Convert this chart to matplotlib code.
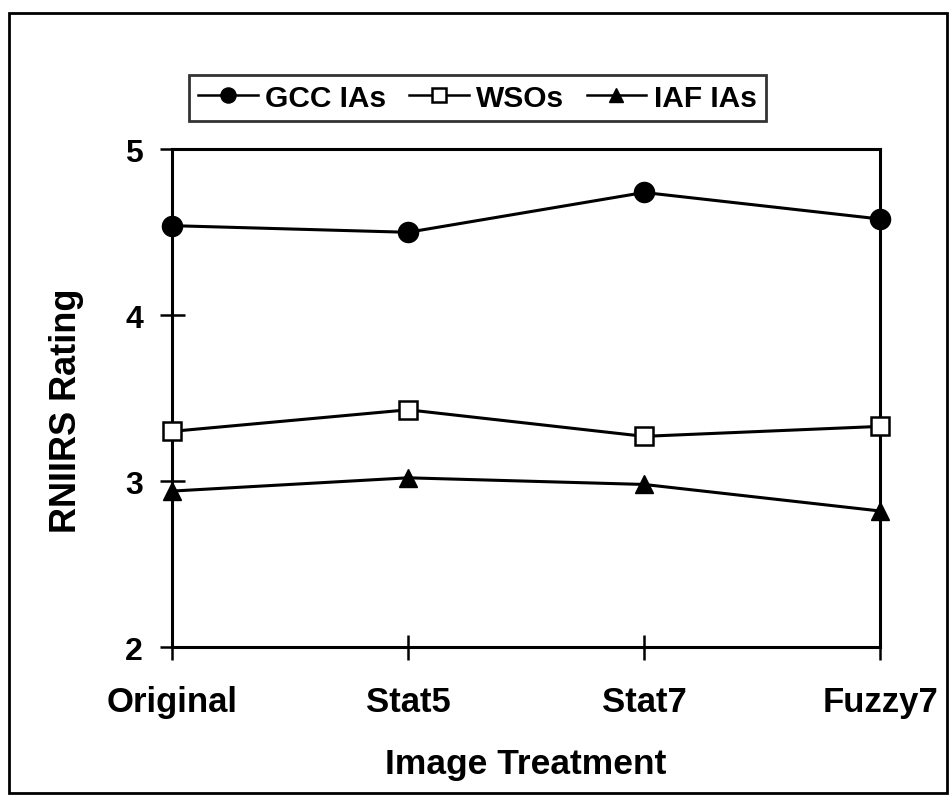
import matplotlib
matplotlib.use("Agg")
import matplotlib.pyplot as plt
from matplotlib.patches import Rectangle

categories = ["Original", "Stat5", "Stat7", "Fuzzy7"]
gcc_ias = [4.54, 4.50, 4.74, 4.58]
wsos = [3.30, 3.43, 3.27, 3.33]
iaf_ias = [2.94, 3.02, 2.98, 2.82]
yticks = [2, 3, 4, 5]

plt.rcParams['font.family'] = ['Liberation Sans', 'DejaVu Sans']
plt.rcParams['font.weight'] = 'bold'

fig = plt.figure(figsize=(9.53, 8.04), dpi=100)
ax = fig.add_axes([0.1805, 0.194, 0.743, 0.619])

x = list(range(len(categories)))
l1, = ax.plot(x, gcc_ias, color='black', lw=2.2, marker='o', ms=14.5, mfc='black', mec='black', clip_on=False, zorder=3)
l2, = ax.plot(x, wsos, color='black', lw=2.2, marker='s', ms=13, mfc='white', mec='black', mew=1.8, clip_on=False, zorder=3)
l3, = ax.plot(x, iaf_ias, color='black', lw=2.2, marker='^', ms=13, mfc='black', mec='black', clip_on=False, zorder=3)

ax.set_xlim(0, len(categories) - 1)
ax.set_ylim(2, 5)
ax.set_xticks(x)
ax.set_xticklabels(categories)
ax.set_yticks(yticks)
for s in ax.spines.values():
    s.set_linewidth(2.2)
ax.tick_params(axis='both', direction='inout', length=18, width=1.8)
ax.tick_params(axis='y', pad=12, labelsize=23)
ax.tick_params(axis='x', pad=18, labelsize=25)
for lab in ax.get_xticklabels() + ax.get_yticklabels():
    lab.set_fontweight('bold')

ax.set_xlabel("Image Treatment", fontsize=25.5, fontweight='bold', labelpad=21)
ax.set_ylabel("RNIIRS Rating", fontsize=26, fontweight='bold')
ax.yaxis.set_label_coords(-0.125, 0.476)

leg = fig.legend([l1, l2, l3], ["GCC IAs", "WSOs", "IAF IAs"], loc='center',
                 bbox_to_anchor=(0.501, 0.877), ncol=3, fontsize=21.5, frameon=True,
                 fancybox=False, edgecolor='black', handlelength=2.0, handletextpad=0.25,
                 columnspacing=0.75, borderpad=0.3, markerscale=0.75)
leg.get_frame().set_linewidth(2)
for h in leg.legend_handles:
    h.set_linewidth(1.8)

fig.patches.append(Rectangle((0.009, 0.012), 0.985, 0.97, transform=fig.transFigure,
                             fill=False, edgecolor='black', lw=2))

fig.savefig("out.png", dpi=100)
